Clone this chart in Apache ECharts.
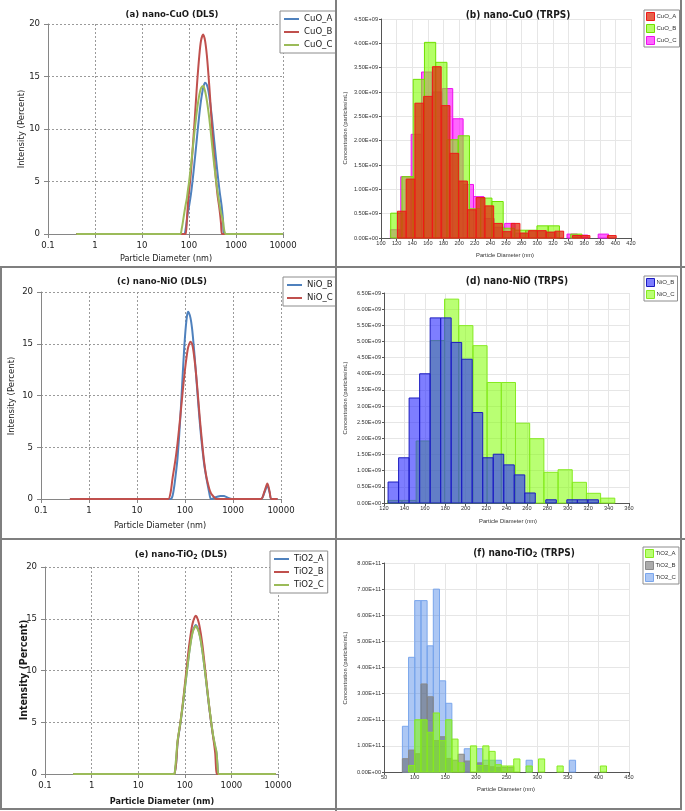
<!DOCTYPE html>
<html><head><meta charset="utf-8">
<script src="https://cdn.jsdelivr.net/npm/echarts@6/dist/echarts.min.js"></script>
<style>
html,body{margin:0;padding:0;background:#fff;width:685px;height:811px;overflow:hidden;}
.p{position:absolute;}
.ln{position:absolute;background:#7f7f7f;}
</style></head><body>
<div id="pa" class="p" style="left:0;top:0;width:336px;height:267px"></div>
<div id="pb" class="p" style="left:336px;top:0;width:349px;height:267px"></div>
<div id="pc" class="p" style="left:0;top:267px;width:336px;height:272px"></div>
<div id="pd" class="p" style="left:336px;top:267px;width:349px;height:272px"></div>
<div id="pe" class="p" style="left:0;top:539px;width:336px;height:272px"></div>
<div id="pf" class="p" style="left:336px;top:539px;width:349px;height:272px"></div>
<div class="ln" style="left:335px;top:0;width:2px;height:811px"></div>
<div class="ln" style="left:0;top:266px;width:685px;height:2px"></div>
<div class="ln" style="left:0;top:538px;width:685px;height:2px"></div>
<div class="ln" style="left:0;top:808px;width:682px;height:2px"></div>
<div class="ln" style="left:680px;top:0;width:2px;height:810px"></div>
<div class="ln" style="left:0;top:267px;width:2px;height:543px"></div>
<script>
// ---------------- DATA ----------------
// (a) nano-CuO DLS : particle diameter (nm) and intensity (%)
const cuoDlsSize = [0.4, 10, 50, 65, 70, 75, 80, 85, 90, 95, 100, 110, 120, 130, 140, 150, 165, 180, 200, 220, 240, 260, 280, 300, 330, 360, 400, 450, 480, 500, 530, 550, 600, 650, 1000, 10000];
const cuoA_dls = [0,0,0,0,0,0,0,0.5,1.3,2.1,2.6,3.8,5.2,6.7,8.1,9.5,11.3,12.7,13.9,14.4,14.2,13.6,12.6,11.5,9.7,8.0,6.0,4.0,3.1,2.5,1.3,0,0,0,0,0];
const cuoB_dls = [0,0,0,0,0,0,0,0,1.3,2.9,4.0,5.9,8.2,10.4,12.6,14.6,16.9,18.4,19.0,18.4,17.0,15.1,13.1,11.0,8.3,6.1,3.9,2.2,1.0,0,0,0,0,0,0,0];
const cuoC_dls = [0,0,0,0,0.5,1.3,2.1,2.8,3.4,4.2,4.9,6.5,8.1,9.6,10.9,12.0,13.2,13.9,14.1,13.6,12.7,11.6,10.4,9.1,7.3,5.8,4.2,2.7,2.0,1.7,1.2,0.6,0,0,0,0];

// (c) nano-NiO DLS
const nioDlsSize = [0.4, 10, 40, 45, 50, 55, 60, 65, 70, 80, 90, 100, 110, 117, 130, 140, 150, 165, 180, 200, 220, 250, 280, 320, 345, 360, 400, 450, 550, 650, 800, 950, 1500, 3800, 4500, 5200, 5800, 6300, 8500];
const nioB_dls = [0,0,0,0,0,0.3,1.3,2.6,4.0,7.9,12.2,15.7,17.7,18.1,17.5,16.5,15.1,12.8,10.5,7.8,5.7,3.4,2.0,0.6,0,0,0.1,0.2,0.3,0.28,0.1,0,0,0,0.6,1.3,0.6,0,0];
const nioC_dls = [0,0,0,0,0.6,2.0,3.1,4.2,5.4,8.0,10.5,12.5,14.0,14.7,15.2,15.0,14.3,12.7,10.8,8.2,6.1,3.6,2.1,1.0,0.6,0.45,0.2,0,0,0,0,0,0,0,0.7,1.5,0.7,0,0];

// (e) nano-TiO2 DLS
const tioDlsSize = [0.4, 10, 50, 60, 62, 65, 70, 80, 90, 100, 110, 120, 130, 140, 150, 165, 172, 180, 200, 220, 240, 260, 280, 300, 330, 360, 400, 450, 480, 500, 530, 600, 1000, 9000];
const tioA_dls = [0,0,0,0,0,1.0,3.0,4.8,6.5,8.2,9.8,11.2,12.4,13.3,13.9,14.3,14.4,14.3,13.8,12.9,11.8,10.6,9.4,8.2,6.6,5.3,3.8,2.6,2.0,1.0,0,0,0,0];
const tioB_dls = [0,0,0,0,0,1.0,3.1,4.9,6.7,8.6,10.3,11.9,13.1,14.1,14.7,15.2,15.3,15.2,14.6,13.6,12.4,11.0,9.7,8.4,6.7,5.3,3.8,2.0,0,0,0,0,0,0];
const tioC_dls = [0,0,0,0,0.5,1.5,3.2,4.9,6.6,8.3,9.8,11.2,12.3,13.2,13.8,14.2,14.3,14.2,13.7,12.9,11.8,10.6,9.4,8.3,6.7,5.4,3.9,2.7,2.1,1.0,0,0,0,0];

// (b) nano-CuO TRPS : histogram bins (first bin edge, bin width in nm), concentration x1E+09 /mL
const cuoA_bin = [121, 11.2];
const cuoA_trps = [0.55,1.21,2.77,2.91,3.52,2.72,1.74,1.17,0.58,0.83,0.66,0.30,0.13,0.30,0.10,0.15,0.15,0.12,0.14,0,0.05,0.05,0,0,0.05];
const cuoB_bin = [112.4, 14.4];
const cuoB_trps = [0.51,1.26,3.26,4.02,3.61,2.02,2.10,0.60,0.82,0.75,0.20,0.16,0.16,0.25,0.25,0,0.08];
const cuoC_bin = [112, 13.3];
const cuoC_trps = [0.17,1.26,2.13,3.41,3.00,3.07,2.45,1.10,0.85,0.40,0.22,0.30,0.10,0.15,0.15,0.12,0,0.08,0.06,0,0.08];

// (d) nano-NiO TRPS, x1E+09 /mL
const nioB_bin = [124, 10.3];
const nioB_trps = [0.65,1.40,3.25,4.00,5.73,5.73,4.97,4.45,2.80,1.40,1.51,1.18,0.87,0.31,0,0.10,0,0.10,0.10,0.10];
const nioC_bin = [123.7, 13.9];
const nioC_trps = [0.08,0.08,1.92,5.03,6.31,5.49,4.87,3.73,3.73,2.47,1.99,0.95,1.03,0.64,0.30,0.15];

// (f) nano-TiO2 TRPS, x1E+11 /mL
const tio_bin = [80, 10.1];
const tioA_trps = [0,0.25,2.00,2.00,1.52,2.26,1.20,2.00,1.26,0.35,0,1.00,0.25,1.00,0.79,0.28,0.23,0.23,0.50,0,0.23,0,0.50,0,0,0.23,0,0,0,0,0,0,0.23];
const tioB_trps = [0.51,0.84,0.70,3.37,2.88,1.20,1.35,0.52,0.45,0.68,0.42,0,0.35,0.25,0.20,0.18,0.18,0.18];
const tioC_trps = [1.75,4.39,6.56,6.56,4.83,7.00,3.49,2.63,0,0,0.89,0,0.89,0.45,0.45,0.45,0,0,0,0,0.45,0,0,0,0,0,0,0.45];

// tick labels
const dlsXTicks = ['0.1','1','10','100','1000','10000'];

// ---------------- STYLE ----------------
const NARROW = '"Liberation Sans Narrow","DejaVu Sans Condensed","Liberation Sans",sans-serif';
const SANS = '"Liberation Sans",Arial,sans-serif';
const BLUE = '#4f81bd', RED = '#c0504d', GREEN = '#9bbb59';

function gtext(x, y, text, size, bold, rot, extra) {
  const st = {text: text, fontSize: size, fontFamily: NARROW, fontWeight: bold ? 'bold' : 'normal', fill: '#1a1a1a', align: 'center', verticalAlign: 'middle'};
  if (extra) Object.assign(st, extra);
  const g = {type: 'text', x: x, y: y, style: st, z: 100};
  if (rot) g.rotation = Math.PI / 2;
  return g;
}

function dlsChart(id, cfg) {
  const chart = echarts.init(document.getElementById(id));
  const series = cfg.series.map(s => ({
    name: s.name, type: 'line', showSymbol: false, smooth: 0.3,
    data: cfg.size.map((x, i) => [x, s.values[i]]),
    lineStyle: {width: 2, color: s.color}, itemStyle: {color: s.color}
  }));
  chart.setOption({
    animation: false,
    grid: {left: cfg.grid[0], top: cfg.grid[1], width: cfg.grid[2], height: cfg.grid[3]},
    xAxis: {type: 'log', logBase: 10, min: 0.1, max: 10000, splitNumber: 5,
      axisLine: {lineStyle: {color: '#868686'}},
      axisTick: {show: true, length: 4, lineStyle: {color: '#868686'}},
      axisLabel: {fontFamily: NARROW, fontSize: 9.5, color: '#222', margin: 7,
        formatter: v => { const s = String(+(+v).toPrecision(4)); return dlsXTicks.indexOf(s) >= 0 ? s : ''; }},
      splitLine: {show: true, lineStyle: {type: [2, 2], color: '#9a9a9a'}}},
    yAxis: {type: 'value', min: 0, max: 20, interval: 5,
      axisLine: {show: true, lineStyle: {color: '#868686'}},
      axisTick: {show: true, length: 4, lineStyle: {color: '#868686'}},
      axisLabel: {fontFamily: NARROW, fontSize: 9.5, color: '#222', margin: 8},
      splitLine: {show: true, lineStyle: {type: [2, 2], color: '#9a9a9a'}}},
    legend: {orient: 'vertical', left: cfg.legend[0], top: cfg.legend[1], icon: 'rect', itemWidth: 15, itemHeight: 2, itemGap: 1,
      padding: [2, 4, 2, 4], borderColor: '#8c8c8c', borderWidth: 1, backgroundColor: '#fff',
      textStyle: {fontFamily: NARROW, fontSize: 9.5, color: '#222', lineHeight: 12},
      data: cfg.series.map(s => s.name)},
    graphic: [
      gtext(cfg.title[0], cfg.title[1], cfg.title[2], 9.5, true, false, cfg.titleRich ? {rich: cfg.titleRich} : null),
      gtext(cfg.xname[0], cfg.xname[1], 'Particle Diameter (nm)', 9, cfg.boldNames, false),
      gtext(cfg.yname[0], cfg.yname[1], 'Intensity (Percent)', cfg.boldNames ? 10.5 : 9.5, cfg.boldNames, true)
    ],
    series: series
  });
}

function hist(name, bin, values, fill, stroke) {
  const data = values.map((v, i) => [bin[0] + i * bin[1], bin[0] + (i + 1) * bin[1], v]);
  return {
    name: name, type: 'custom', data: data, encode: {x: [0, 1], y: 2},
    itemStyle: {color: fill, borderColor: stroke, borderWidth: 1},
    renderItem: (params, api) => {
      const v = api.value(2);
      if (!v) return null;
      const p0 = api.coord([api.value(0), 0]);
      const p1 = api.coord([api.value(1), v]);
      return {type: 'rect', shape: {x: p0[0], y: p1[1], width: p1[0] - p0[0], height: p0[1] - p1[1]},
        style: {fill: fill, stroke: stroke, lineWidth: 1}};
    }
  };
}

function trpsChart(id, cfg) {
  const chart = echarts.init(document.getElementById(id));
  const fmt = v => (v === 0 ? '0.00E+00' : v.toFixed(2) + cfg.exp);
  chart.setOption({
    animation: false,
    grid: {left: cfg.grid[0], top: cfg.grid[1], width: cfg.grid[2], height: cfg.grid[3]},
    xAxis: {type: 'value', min: cfg.x[0], max: cfg.x[1], interval: cfg.x[2],
      axisLine: {lineStyle: {color: '#555'}},
      axisTick: {show: true, length: 3, lineStyle: {color: '#555'}},
      axisLabel: {fontFamily: SANS, fontSize: 5.6, color: '#333', margin: 2},
      splitLine: {show: true, lineStyle: {color: '#e6e6e6'}}},
    yAxis: {type: 'value', min: 0, max: cfg.y[0], interval: cfg.y[1],
      axisLine: {show: true, lineStyle: {color: '#555'}},
      axisTick: {show: true, length: 2, lineStyle: {color: '#555'}},
      axisLabel: {fontFamily: SANS, fontSize: 5.6, color: '#333', margin: 3, formatter: fmt},
      splitLine: {show: true, lineStyle: {color: '#e6e6e6'}}},
    legend: {orient: 'vertical', left: cfg.legend[0], top: cfg.legend[1], icon: 'rect', itemWidth: 8, itemHeight: 8, itemGap: 3,
      padding: [2, 3, 2, 2], borderColor: '#8c8c8c', borderWidth: 1, backgroundColor: '#fff',
      textStyle: {fontFamily: SANS, fontSize: 6, color: '#333', lineHeight: 8, padding: [0, 0, 0, -3]},
      data: cfg.legendItems.map(s => ({name: s.name, itemStyle: {color: s.fill, borderColor: s.stroke, borderWidth: 1}}))},
    graphic: [
      gtext(cfg.title[0], cfg.title[1], cfg.title[2], 10, true, false, cfg.titleRich ? {rich: cfg.titleRich} : null),
      gtext(cfg.xname[0], cfg.xname[1], 'Particle Diameter (nm)', 5.8, false, false, {fontFamily: SANS, fill: '#333'}),
      gtext(cfg.yname[0], cfg.yname[1], 'Concentration (particles/mL)', 5.8, false, true, {fontFamily: SANS, fill: '#333'})
    ],
    series: cfg.series
  });
}

const subRich = {s: {fontSize: 7, fontWeight: 'bold', fontFamily: NARROW, padding: [5, 0, 0, 0]}};

dlsChart('pa', {size: cuoDlsSize, grid: [48, 24, 235, 210], legend: [280, 11],
  title: [172, 15, '(a) nano-CuO (DLS)'], xname: [166, 259], yname: [22, 129],
  series: [{name: 'CuO_A', values: cuoA_dls, color: BLUE}, {name: 'CuO_B', values: cuoB_dls, color: RED}, {name: 'CuO_C', values: cuoC_dls, color: GREEN}]});

dlsChart('pc', {size: nioDlsSize, grid: [41, 25, 240, 207], legend: [283, 10],
  title: [162, 15, '(c) nano-NiO (DLS)'], xname: [160, 259], yname: [12, 129],
  series: [{name: 'NiO_B', values: nioB_dls, color: BLUE}, {name: 'NiO_C', values: nioC_dls, color: RED}]});

dlsChart('pe', {size: tioDlsSize, grid: [45, 28, 233, 207], legend: [270, 12], boldNames: true,
  title: [181, 16, '(e) nano-TiO{s|2} (DLS)'], titleRich: subRich, xname: [162, 263], yname: [24, 131],
  series: [{name: 'TiO2_A', values: tioA_dls, color: BLUE}, {name: 'TiO2_B', values: tioB_dls, color: RED}, {name: 'TiO2_C', values: tioC_dls, color: GREEN}]});

const cA = {name: 'CuO_A', fill: 'rgba(222,45,15,0.75)', stroke: '#f01818'};
const cB = {name: 'CuO_B', fill: 'rgba(128,255,0,0.6)', stroke: '#70e000'};
const cC = {name: 'CuO_C', fill: 'rgba(255,0,255,0.6)', stroke: '#ee10ee'};
trpsChart('pb', {grid: [45, 19, 250, 219], x: [100, 420, 20], y: [4.5, 0.5], exp: 'E+09', legend: [308, 10],
  title: [182, 15, '(b) nano-CuO (TRPS)'], xname: [169, 255], yname: [9, 128],
  legendItems: [cA, cB, cC],
  series: [hist('CuO_C', cuoC_bin, cuoC_trps, cC.fill, cC.stroke), hist('CuO_B', cuoB_bin, cuoB_trps, cB.fill, cB.stroke), hist('CuO_A', cuoA_bin, cuoA_trps, cA.fill, cA.stroke)]});

const nB = {name: 'NiO_B', fill: 'rgba(40,40,255,0.6)', stroke: '#1c1cc0'};
const nC = {name: 'NiO_C', fill: 'rgba(128,255,0,0.55)', stroke: '#86ea20'};
trpsChart('pd', {grid: [48, 26, 245, 210], x: [120, 360, 20], y: [6.5, 0.5], exp: 'E+09', legend: [308, 9],
  title: [181, 14, '(d) nano-NiO (TRPS)'], xname: [172, 254], yname: [9, 131],
  legendItems: [nB, nC],
  series: [hist('NiO_C', nioC_bin, nioC_trps, nC.fill, nC.stroke), hist('NiO_B', nioB_bin, nioB_trps, nB.fill, nB.stroke)]});

const tA = {name: 'TiO2_A', fill: 'rgba(128,255,0,0.55)', stroke: '#86ea20'};
const tB = {name: 'TiO2_B', fill: 'rgba(90,90,90,0.5)', stroke: '#8a8a8a'};
const tC = {name: 'TiO2_C', fill: 'rgba(70,130,230,0.45)', stroke: '#7aa6ec'};
trpsChart('pf', {grid: [48, 24, 245, 209], x: [50, 450, 50], y: [8, 1], exp: 'E+11', legend: [307, 8],
  title: [188, 14, '(f) nano-TiO{s|2} (TRPS)'], titleRich: {s: {fontSize: 7.5, fontWeight: 'bold', fontFamily: NARROW, padding: [5, 0, 0, 0]}},
  xname: [170, 250], yname: [9, 129],
  legendItems: [tA, tB, tC],
  series: [hist('TiO2_C', tio_bin, tioC_trps, tC.fill, tC.stroke), hist('TiO2_B', tio_bin, tioB_trps, tB.fill, tB.stroke), hist('TiO2_A', tio_bin, tioA_trps, tA.fill, tA.stroke)]});
</script>
</body></html>
